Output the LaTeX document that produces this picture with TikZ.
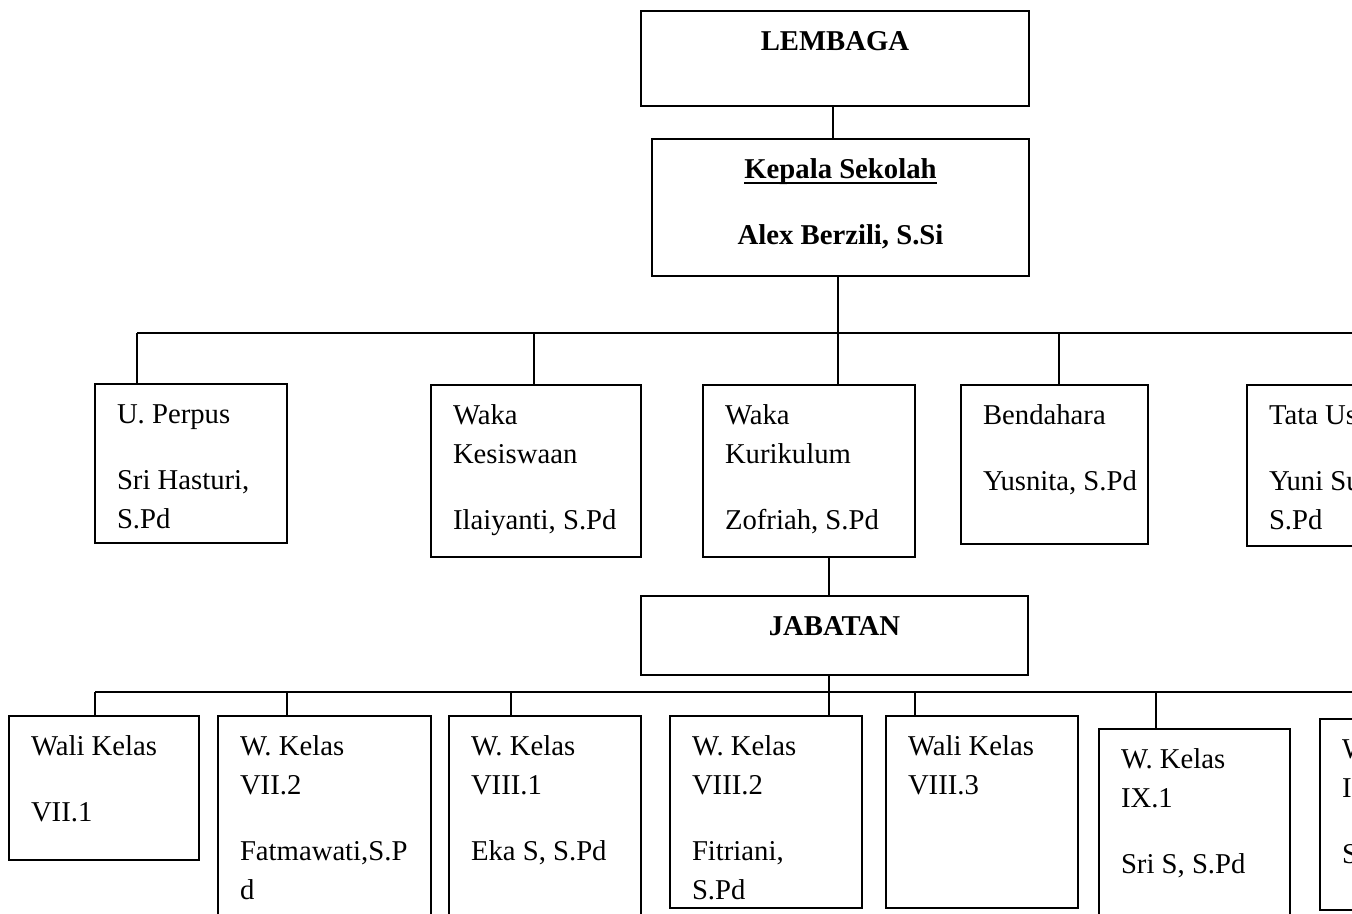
\documentclass[tikz,border=0pt]{standalone}
\usepackage{fontspec}
\setmainfont{Liberation Serif}
\newcommand\ulbox[1]{\setbox0\hbox{#1}\rlap{\rule[-2.4pt]{\wd0}{0.75pt}}\box0}
\newcommand\orgbox[5]{\node[bx, minimum width={(#4-#2)*0.418pt}, minimum height={(#5-#3)*0.418pt}] (#1) at (#2,#3) {};}
\tikzset{
  bx/.style={draw, line width=0.8pt, rectangle, inner sep=0pt, outer sep=0pt, anchor=north west},
  txt/.style={anchor=north west, inner sep=0pt, outer sep=0pt, align=left, font=\fontsize{12pt}{16.3pt}\selectfont},
  ctxt/.style={anchor=north, inner sep=0pt, outer sep=0pt, align=center, font=\fontsize{12pt}{16.3pt}\selectfont\bfseries},
  ln/.style={line width=0.8pt}
}
\begin{document}
\begin{tikzpicture}[x=0.418pt, y=-0.418pt]
\useasboundingbox (0,0) rectangle (1352,914);
\fill[white] (0,0) rectangle (1352,914);
\clip (0,0) rectangle (1352,914);

% top boxes
\orgbox{lemb}{641}{11}{1029}{106}
\orgbox{kep}{652}{139}{1029}{276}
\node[ctxt] (lembt) at (835,21.3) {\rule{0pt}{12pt}LEMBAGA};
\node[ctxt] (kept) at (840.5,149.3) {\rule{0pt}{12pt}\ulbox{Kepala Sekolah}\\[11.3pt]Alex Berzili, S.Si};

% middle row
\orgbox{perp}{95}{384}{287}{543}
\orgbox{kes}{431}{385}{641}{557}
\orgbox{kur}{703}{385}{915}{557}
\orgbox{ben}{961}{385}{1148}{544}
\orgbox{tu}{1247}{385}{1420}{546}
\node[txt] (perpt) at (117,394.3) {\rule{0pt}{12pt}U. Perpus\\[11.3pt]Sri Hasturi,\\S.Pd};
\node[txt] (kest) at (453,395.3) {\rule{0pt}{12pt}Waka\\Kesiswaan\\[11.3pt]Ilaiyanti, S.Pd};
\node[txt] (kurt) at (725,395.3) {\rule{0pt}{12pt}Waka\\Kurikulum\\[11.3pt]Zofriah, S.Pd};
\node[txt] (bent) at (983,395.3) {\rule{0pt}{12pt}Bendahara\\[11.3pt]Yusnita, S.Pd};
\node[txt] (tut) at (1269,395.3) {\rule{0pt}{12pt}Tata Usaha\\[11.3pt]Yuni Su\\S.Pd};

% jabatan
\orgbox{jab}{641}{596}{1028}{675}
\node[ctxt] (jabt) at (834.5,606.3) {\rule{0pt}{12pt}JABATAN};

% bottom row
\orgbox{w1}{9}{716}{199}{860}
\orgbox{w2}{218}{716}{431}{930}
\orgbox{w3}{449}{716}{641}{930}
\orgbox{w4}{670}{716}{862}{908}
\orgbox{w5}{886}{716}{1078}{908}
\orgbox{w6}{1099}{729}{1290}{930}
\orgbox{w7}{1320}{719}{1420}{910}
\node[txt] (w1t) at (31,726.3) {\rule{0pt}{12pt}Wali Kelas\\[11.3pt]VII.1};
\node[txt] (w2t) at (240,726.3) {\rule{0pt}{12pt}W. Kelas\\VII.2\\[11.3pt]Fatmawati,S.P\\d};
\node[txt] (w3t) at (471,726.3) {\rule{0pt}{12pt}W. Kelas\\VIII.1\\[11.3pt]Eka S, S.Pd};
\node[txt] (w4t) at (692,726.3) {\rule{0pt}{12pt}W. Kelas\\VIII.2\\[11.3pt]Fitriani,\\S.Pd};
\node[txt] (w5t) at (908,726.3) {\rule{0pt}{12pt}Wali Kelas\\VIII.3};
\node[txt] (w6t) at (1121,739.3) {\rule{0pt}{12pt}W. Kelas\\IX.1\\[11.3pt]Sri S, S.Pd};
\node[txt] (w7t) at (1342,729.3) {\rule{0pt}{12pt}W. Kelas\\IX.2\\[11.3pt]S};

% connectors
\coordinate (b1c) at (838,333);
\coordinate (b1l) at (137,333);
\coordinate (b1r) at (1360,333);
\coordinate (d12) at (534,333);
\coordinate (d14) at (1059,333);
\draw[ln] (lemb.south -| 833,0) -- (kep.north -| 833,0);
\draw[ln] (kep.south -| b1c) -- (b1c);
\draw[ln] (b1l) -- (b1r);
\draw[ln] (b1l) -- (perp.north -| b1l);
\draw[ln] (d12) -- (kes.north -| d12);
\draw[ln] (b1c) -- (kur.north -| b1c);
\draw[ln] (d14) -- (ben.north -| d14);

\coordinate (b2c) at (829,692);
\coordinate (b2l) at (95,692);
\coordinate (b2r) at (1360,692);
\coordinate (d22) at (287,692);
\coordinate (d23) at (511,692);
\coordinate (d25) at (915,692);
\coordinate (d26) at (1156,692);
\draw[ln] (kur.south -| b2c) -- (jab.north -| b2c);
\draw[ln] (jab.south -| b2c) -- (w4.north -| b2c);
\draw[ln] (b2l) -- (b2r);
\draw[ln] (b2l) -- (w1.north -| b2l);
\draw[ln] (d22) -- (w2.north -| d22);
\draw[ln] (d23) -- (w3.north -| d23);
\draw[ln] (d25) -- (w5.north -| d25);
\draw[ln] (d26) -- (w6.north -| d26);
\end{tikzpicture}
\end{document}
